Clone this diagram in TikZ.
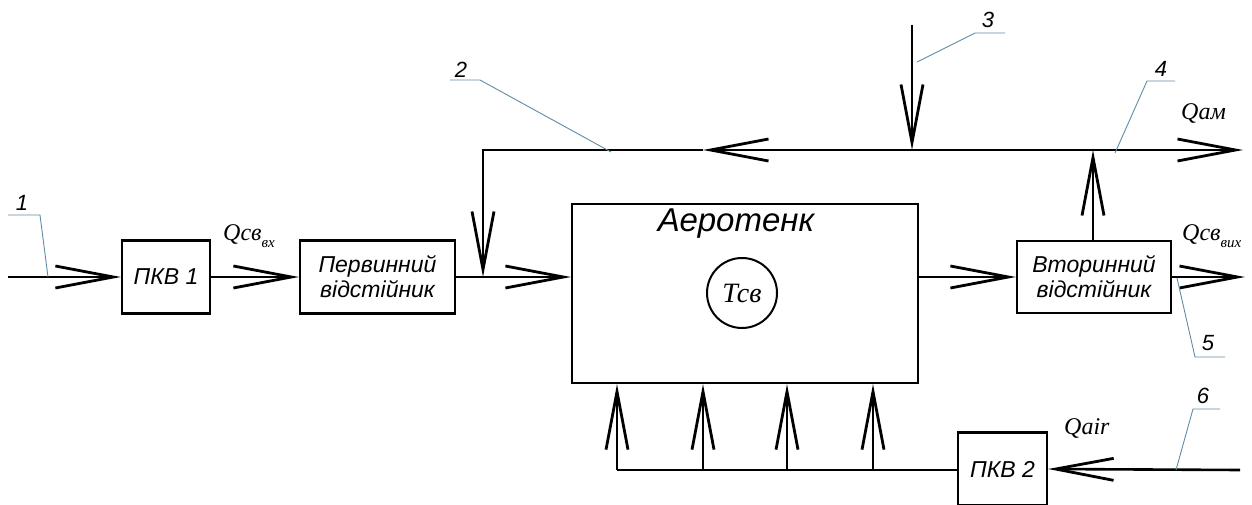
\documentclass[tikz,border=0pt]{standalone}
\usepackage{fontspec}
\setmainfont{Liberation Sans}
\newfontfamily\qfont{Liberation Serif}
\usetikzlibrary{arrows.meta}
\definecolor{leadc}{RGB}{95,140,165}
\tikzset{
  flow/.style={line width=2.6pt, -{Straight Barb[length=58pt,width=22pt,line width=2.8pt]}},
  pipe/.style={line width=2.6pt},
  blockbox/.style={draw, line width=2.2pt, inner sep=0pt, align=center, font=\fontsize{23}{25}\selectfont\itshape},
  leader/.style={draw=leadc, line width=0.9pt},
  numlabel/.style={inner sep=0pt, font=\fontsize{22}{24}\selectfont\itshape},
  qlabel/.style={inner sep=0pt, anchor=west, font=\qfont\itshape\fontsize{24}{26}\selectfont},
}
\newcommand{\qsub}[1]{\raisebox{-0.3em}{\fontsize{15}{16}\selectfont #1}}
\begin{document}
\begin{tikzpicture}[x=1pt,y=-1pt]
\useasboundingbox (0,0) rectangle (1252,505);
% blocks
\node[blockbox, minimum width=88pt, minimum height=73pt] (pkv1) at (166,277) {ПКВ 1};
\node[blockbox, minimum width=155pt, minimum height=73pt] (perv) at (377.5,277) {Первинний\\[0pt]відстійник};
\node[draw, line width=2.2pt, inner sep=0pt, minimum width=346pt, minimum height=179pt] (aero) at (745,293.5) {};
\node[inner sep=0pt, font=\fontsize{33}{35}\selectfont\itshape] (aerot) at (736,224) {Аеротенк};
\node[draw, circle, line width=2pt, minimum size=70pt, inner sep=0pt, font=\qfont\itshape\fontsize{28}{30}\selectfont] (tsv) at (742,293) {Тсв};
\node[blockbox, minimum width=154pt, minimum height=72pt] (vtor) at (1094,277) {Вторинний\\[0pt]відстійник};
\node[blockbox, minimum width=89pt, minimum height=73pt] (pkv2) at (1002.5,469) {ПКВ 2};
% coordinates
\coordinate (s1) at (8,277);
\coordinate (j3) at (912,150);
\coordinate (t3) at (912,25);
\coordinate (j4) at (1093,150);
\coordinate (e4) at (1243,150);
\coordinate (m2) at (703,150);
\coordinate (c2) at (483,150);
\coordinate (d2) at (483,277);
\coordinate (e5) at (1245,277);
\coordinate (e6) at (1240,470);
\coordinate (b0) at (617,470);
% flows
\draw[flow] (s1) -- (pkv1.west);
\draw[flow] (pkv1.east) -- (perv.west);
\draw[flow] (perv.east) -- (perv.east -| aero.west);
\draw[flow] (aero.east |- vtor.west) -- (vtor.west);
\draw[flow] (vtor.east) -- (e5);
\draw[flow] (vtor.north -| j4) -- (j4);
\draw[flow] (j4) -- (e4);
\draw[flow] (j4) -- (m2);
\draw[flow] (m2) -- (c2) -- (d2);
\draw[flow] (t3) -- (j3);
\draw[flow] (e6) -- (pkv2.east);
\draw[pipe] (pkv2.west |- b0) -- (b0);
\foreach \xx in {617,703,787,873} \draw[flow] (\xx,470) -- (\xx,470 |- aero.south);
% labels
\node[qlabel] (qin) at (223,236) {Qсв\qsub{вх}};
\node[qlabel] (qout) at (1182,236) {Qсв\qsub{вих}};
\node[qlabel] (qam) at (1181,114) {Qам};
\node[qlabel] (qair) at (1064,428) {Qair};
% leaders
\node[numlabel] (n1) at (22,203) {1};
\coordinate (l1a) at (8,215); \coordinate (l1b) at (40,215); \coordinate (l1c) at (48,277);
\draw[leader] (l1a) -- (l1b) -- (l1c);
\node[numlabel] (n2) at (461,70) {2};
\coordinate (l2a) at (450,80); \coordinate (l2b) at (480,80); \coordinate (l2c) at (611,152);
\draw[leader] (l2a) -- (l2b) -- (l2c);
\node[numlabel] (n3) at (988,20) {3};
\coordinate (l3a) at (917,62); \coordinate (l3b) at (975,33); \coordinate (l3c) at (1005,33);
\draw[leader] (l3a) -- (l3b) -- (l3c);
\node[numlabel] (n4) at (1161,69) {4};
\coordinate (l4a) at (1115,153); \coordinate (l4b) at (1147,81); \coordinate (l4c) at (1175,81);
\draw[leader] (l4a) -- (l4b) -- (l4c);
\node[numlabel] (n5) at (1208,343) {5};
\coordinate (l5a) at (1177,278); \coordinate (l5b) at (1195,357); \coordinate (l5c) at (1225,357);
\draw[leader] (l5a) -- (l5b) -- (l5c);
\node[numlabel] (n6) at (1203,396) {6};
\coordinate (l6a) at (1176,470); \coordinate (l6b) at (1193,409); \coordinate (l6c) at (1220,409);
\draw[leader] (l6a) -- (l6b) -- (l6c);
\end{tikzpicture}
\end{document}
